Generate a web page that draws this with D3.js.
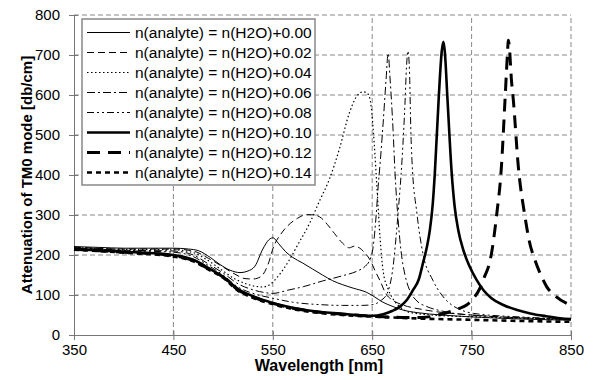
<!DOCTYPE html>
<html>
<head>
<meta charset="utf-8">
<script src="https://cdn.jsdelivr.net/npm/d3@7"></script>
<style>
  body { margin: 0; background: #fff; }
  svg { display: block; font-family: "Liberation Sans", Arial, Helvetica, sans-serif; }
  .tick text { font-size: 15px; fill: #000; }
</style>
</head>
<body>
<div id="chart-container"></div>
<script>
// wavelength [nm], attenuation [dB/cm] pairs, one array per index offset
var s000 = [[350,221],[375,219],[400,217],[425,217],[450,217],[465,215],[475,211],[487,194],[497,176],[507,162],[517,156],[525,160],[532,172],[540,215],[546,238],[550,243],[556,228],[563,208],[570,194],[580,180],[590,165],[600,150],[610,136],[620,126],[631,117],[644,107],[652,96],[660,83],[670,72],[680,63],[695,56],[720,50],[760,44],[800,40],[850,37]];
var s002 = [[350,220],[400,215],[450,215],[470,210],[485,192],[500,170],[512,152],[522,141],[530,140],[538,146],[545,175],[551,222],[558,252],[565,273],[575,292],[584,301],[592,300],[599,292],[605,276],[612,254],[620,230],[627,218],[632,222],[637,218],[642,207],[648,187],[653,160],[658,135],[664,102],[670,88],[681,75],[700,64],[715,58],[750,50],[800,43],[850,39]];
var s004 = [[350,219],[400,214],[450,213],[470,206],[485,186],[500,160],[512,140],[523,128],[532,122],[540,120],[548,128],[557,152],[566,185],[575,225],[587,279],[597,335],[607,390],[617,465],[627,555],[634,595],[641,608],[646,602],[649,570],[652,480],[655,360],[658,240],[661,160],[666,115],[671,90],[678,70],[686,58],[710,50],[760,45],[850,38]];
var s006 = [[350,218],[400,212],[450,210],[470,200],[485,178],[500,155],[515,128],[530,113],[542,106],[550,104],[565,112],[581,121],[600,135],[620,148],[635,160],[643,172],[648,190],[651,221],[654,300],[656,371],[658,430],[661,530],[664,640],[666,704],[668,640],[671,512],[673,404],[676,290],[679,210],[683,150],[688,110],[695,85],[705,71],[720,60],[760,48],[850,40]];
var s008 = [[350,217],[400,211],[450,207],[470,196],[485,174],[500,150],[515,120],[530,104],[550,92],[570,82],[597,76],[620,74],[640,74],[651,76],[658,85],[665,104],[671,171],[676,304],[680,437],[683,580],[684.5,670],[686,710],[687.5,660],[689,500],[690,437],[695,304],[701,204],[711,137],[720,100],[728,79],[740,62],[752,54],[800,45],[850,40]];
var s010 = [[350,215],[400,208],[450,200],[470,188],[485,168],[500,145],[515,115],[530,97],[550,80],[570,68],[590,60],[620,53],[650,48],[661,52],[670,60],[678,71],[685,88],[691,112],[697,140],[701,179],[705,220],[708,262],[711,330],[713,404],[717,596],[720,710],[721.6,733],[723,710],[725.6,596],[730,404],[733,320],[736.6,262],[742,210],[748,171],[755,138],[762,112],[770,92],[782,75],[795,63],[809,54],[825,47],[839,42],[850,40]];
var s012 = [[350,214],[400,207],[450,198],[470,186],[485,166],[500,145],[515,113],[530,95],[550,79],[570,67],[590,59],[620,52],[650,47],[680,44],[700,44],[715,49],[728,58],[737,66],[745,75],[752,92],[758,115],[763,146],[768,180],[770,204],[775,296],[780,421],[783.6,587],[786,700],[787,737],[788,720],[790,640],[792,587],[797,421],[803.7,296],[808,235],[813.8,187],[820,148],[825.5,121],[835,96],[850,74]];
var s014 = [[350,213],[400,206],[450,196],[470,184],[485,164],[500,143],[515,111],[530,93],[550,77],[570,65],[590,57],[620,50],[650,46],[700,41],[750,38],[800,35],[850,33]];

var seriesNames = ["n(analyte) = n(H2O)+0.00", "n(analyte) = n(H2O)+0.02", "n(analyte) = n(H2O)+0.04",
                   "n(analyte) = n(H2O)+0.06", "n(analyte) = n(H2O)+0.08", "n(analyte) = n(H2O)+0.10",
                   "n(analyte) = n(H2O)+0.12", "n(analyte) = n(H2O)+0.14"];
var seriesData = [s000, s002, s004, s006, s008, s010, s012, s014];
var xTicks = [350, 450, 550, 650, 750, 850];
var yTicks = [0, 100, 200, 300, 400, 500, 600, 700, 800];

// line look per series: stroke width and dash pattern
var lineStyles = [
    {w: 1,   dash: null},
    {w: 1,   dash: "7,4"},
    {w: 1.2, dash: "1.5,2.5"},
    {w: 1,   dash: "8,3,2,3"},
    {w: 1,   dash: "7,3,2,3,2,3"},
    {w: 2.6, dash: null},
    {w: 3,   dash: "13,8"},
    {w: 2.6, dash: "5,4"}
];

var width = 597;
var height = 380;
var margin = {top: 15, right: 26, bottom: 45, left: 74};

var svg = d3.select("#chart-container")
    .append("svg")
    .attr("width", width)
    .attr("height", height);

var x = d3.scaleLinear().domain([350, 850]).range([margin.left, width - margin.right]);
var y = d3.scaleLinear().domain([0, 800]).range([height - margin.bottom, margin.top]);

//dashed grid, the top and right edges are grid lines too
svg.append("g")
    .selectAll("line")
    .data(yTicks.slice(1))
    .enter()
    .append("line")
    .attr("x1", x(350)).attr("x2", x(850))
    .attr("y1", function(d) { return y(d); })
    .attr("y2", function(d) { return y(d); })
    .style("stroke", "#888")
    .style("stroke-dasharray", "5,3");

svg.append("g")
    .selectAll("line")
    .data(xTicks.slice(1))
    .enter()
    .append("line")
    .attr("y1", y(0)).attr("y2", y(800))
    .attr("x1", function(d) { return x(d); })
    .attr("x2", function(d) { return x(d); })
    .style("stroke", "#888")
    .style("stroke-dasharray", "5,3");

//axes
var yAxis = svg.append("g")
    .attr("transform", "translate(" + x(350) + ",0)")
    .call(d3.axisLeft(y).tickValues(yTicks).tickSize(5).tickPadding(9));
yAxis.selectAll(".tick line").attr("x1", 4).attr("x2", -5).style("stroke", "#777");
yAxis.select(".domain").style("stroke", "#777");

var xAxis = svg.append("g")
    .attr("transform", "translate(0," + y(0) + ")")
    .call(d3.axisBottom(x).tickValues(xTicks).tickSize(5).tickPadding(4));
xAxis.selectAll(".tick line").attr("y1", -4).attr("y2", 5).style("stroke", "#777");
xAxis.select(".domain").style("stroke", "#777");

//curves
var line = d3.line()
    .x(function(d) { return x(d[0]); })
    .y(function(d) { return y(d[1]); })
    .curve(d3.curveMonotoneX);

svg.append("g")
    .selectAll("path")
    .data(seriesData)
    .enter()
    .append("path")
    .attr("d", line)
    .style("fill", "none")
    .style("stroke", "#000")
    .style("stroke-width", function(d, i) { return lineStyles[i].w; })
    .style("stroke-dasharray", function(d, i) { return lineStyles[i].dash; });

//legend box
var legend = svg.append("g").attr("transform", "translate(82,19)");
legend.append("rect")
    .attr("width", 233)
    .attr("height", 166)
    .style("fill", "#fff")
    .style("stroke", "#888")
    .style("stroke-width", 1.5);

var rows = legend.selectAll(".row")
    .data(seriesNames)
    .enter()
    .append("g")
    .attr("transform", function(d, i) { return "translate(0," + (13.5 + i * 20) + ")"; });

rows.append("line")
    .attr("x1", 5).attr("x2", 48)
    .style("stroke", "#000")
    .style("stroke-width", function(d, i) { return lineStyles[i].w; })
    .style("stroke-dasharray", function(d, i) { return lineStyles[i].dash; });

rows.append("text")
    .attr("x", 53)
    .attr("dy", "0.36em")
    .style("font-size", "15.5px")
    .text(function(d) { return d; });

//axis titles
svg.append("text")
    .attr("transform", "translate(32," + ((y(0) + y(800)) / 2) + ") rotate(-90)")
    .attr("text-anchor", "middle")
    .style("font-size", "15px")
    .style("font-weight", "bold")
    .text("Attenuation of TM0 mode [db/cm]");

svg.append("text")
    .attr("x", 319)
    .attr("y", 371)
    .attr("text-anchor", "middle")
    .style("font-size", "16px")
    .style("font-weight", "bold")
    .text("Wavelength [nm]");
</script>
</body>
</html>
